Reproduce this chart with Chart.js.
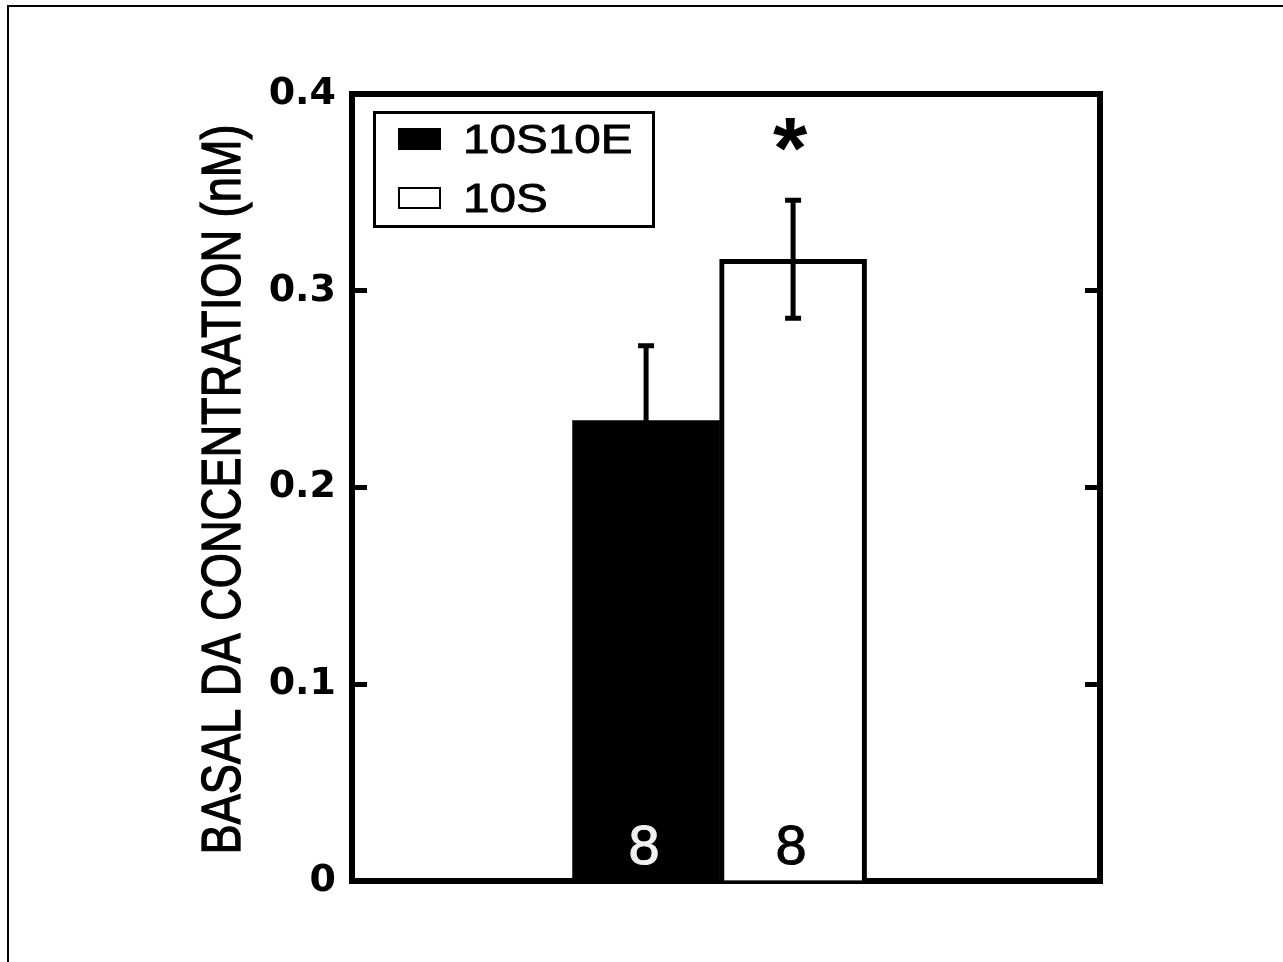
<!DOCTYPE html>
<html><head><meta charset="utf-8">
<script src="https://cdn.jsdelivr.net/npm/chart.js@4.4.1/dist/chart.umd.min.js"></script>
<style>html,body{margin:0;padding:0;background:#fff;overflow:hidden}
canvas{display:block}</style>
</head><body>
<canvas id="c" width="1283" height="962" style="width:1283px;height:962px"></canvas>
<script>
// ---- data ----
const categories = [0];
const seriesLabels = ['10S10E', '10S'];
const means10S10E = [0.234];
const means10S = [0.316];
const sem10S10E = [0.038];
const sem10S = [0.030];
const nCounts = [8, 8];
const significance = ['', '*'];
const yTicks = [0, 0.1, 0.2, 0.3, 0.4];
const yTitle = 'BASAL DA CONCENTRATION (nM)';

const fillColors = ['#000000', '#ffffff'];
const countColors = ['#f0f0f0', '#000000'];

const frame = {
  id: 'frame',
  beforeDraw(chart) {
    const ctx = chart.ctx;
    ctx.save();
    ctx.fillStyle = '#fff';
    ctx.fillRect(0, 0, chart.width, chart.height);
    ctx.fillStyle = '#000';
    ctx.fillRect(7, 5, chart.width - 7, 2);
    ctx.fillRect(7, 5, 2, chart.height - 5);
    ctx.restore();
  }
};

const yTitlePlugin = {
  id: 'yTitlePlugin',
  afterDraw(chart) {
    const ctx = chart.ctx;
    const area = chart.chartArea;
    ctx.save();
    ctx.font = '55px "Liberation Sans", Arial, sans-serif';
    const w = ctx.measureText(yTitle).width;
    ctx.translate(240, (area.top + area.bottom) / 2 + 2);
    ctx.rotate(-Math.PI / 2);
    ctx.scale(730 / w, 1);
    ctx.fillStyle = '#000';
    ctx.strokeStyle = '#000';
    ctx.lineWidth = 1.3;
    ctx.textAlign = 'center';
    ctx.textBaseline = 'alphabetic';
    ctx.fillText(yTitle, 0, 0);
    ctx.strokeText(yTitle, 0, 0);
    ctx.restore();
  }
};

const annotations = {
  id: 'annotations',
  afterDatasetsDraw(chart) {
    const ctx = chart.ctx;
    const y = chart.scales.y;
    const area = chart.chartArea;
    chart.data.datasets.forEach((ds, i) => {
      const meta = chart.getDatasetMeta(i);
      meta.data.forEach((bar, j) => {
        const m = ds.data[j], e = ds.errors[j];
        const yTop = y.getPixelForValue(m + e), yBot = y.getPixelForValue(m - e);
        ctx.save();
        ctx.strokeStyle = '#000';
        ctx.lineWidth = 5;
        ctx.beginPath();
        ctx.moveTo(bar.x, yTop); ctx.lineTo(bar.x, yBot);
        ctx.moveTo(bar.x - 8, yTop); ctx.lineTo(bar.x + 8, yTop);
        ctx.moveTo(bar.x - 8, yBot); ctx.lineTo(bar.x + 8, yBot);
        ctx.stroke();
        // n count
        ctx.fillStyle = ds.countColor;
        ctx.strokeStyle = ds.countColor;
        ctx.lineWidth = 1;
        ctx.font = '56px "Liberation Sans", Arial, sans-serif';
        ctx.textAlign = 'center';
        ctx.textBaseline = 'alphabetic';
        ctx.fillText(String(ds.counts[j]), bar.x - 2, y.getPixelForValue(0) - 17);
        ctx.strokeText(String(ds.counts[j]), bar.x - 2, y.getPixelForValue(0) - 17);
        // significance
        const s = ds.sig[j];
        if (s) {
          ctx.fillStyle = '#000';
          ctx.font = 'bold 88px "Liberation Sans", Arial, sans-serif';
          const mt = ctx.measureText(s);
          const cy = yTop - 66;
          const base = cy - (mt.actualBoundingBoxDescent - mt.actualBoundingBoxAscent) / 2;
          ctx.fillText(s, bar.x - 3, base);
        }
        ctx.restore();
      });
    });
    // legend box
    const lx = area.left + 21, ly = area.top + 17;
    ctx.save();
    ctx.strokeStyle = '#000';
    ctx.lineWidth = 3;
    ctx.strokeRect(lx + 1.5, ly + 1.5, 279, 114);
    chart.data.datasets.forEach((ds, i) => {
      const rowY = ly + 28 + i * 59;
      ctx.fillStyle = ds.backgroundColor;
      ctx.fillRect(lx + 25, rowY - 11, 43, 22);
      ctx.strokeStyle = '#000';
      ctx.lineWidth = 2;
      ctx.strokeRect(lx + 26, rowY - 10, 41, 20);
      ctx.save();
      ctx.translate(lx + 90, rowY + 14);
      ctx.scale(1.19, 1);
      ctx.fillStyle = '#000';
      ctx.strokeStyle = '#000';
      ctx.lineWidth = 0.8;
      ctx.font = '40px "Liberation Sans", Arial, sans-serif';
      ctx.textAlign = 'left';
      ctx.textBaseline = 'alphabetic';
      ctx.fillText(ds.label, 0, 0);
      ctx.strokeText(ds.label, 0, 0);
      ctx.restore();
    });
    ctx.restore();
  }
};

const tickSetter = (scale) => { scale.ticks = yTicks.map(v => ({ value: v })); };

new Chart(document.getElementById('c'), {
  type: 'bar',
  data: {
    labels: categories,
    datasets: [
      { label: seriesLabels[0], data: means10S10E, errors: sem10S10E, counts: [nCounts[0]], sig: [significance[0]],
        countColor: countColors[0], backgroundColor: fillColors[0], borderColor: '#000', borderWidth: 0,
        barThickness: 147 },
      { label: seriesLabels[1], data: means10S, errors: sem10S, counts: [nCounts[1]], sig: [significance[1]],
        countColor: countColors[1], backgroundColor: fillColors[1], borderColor: '#000',
        borderWidth: { left: 5, top: 5, right: 5, bottom: 0 }, borderSkipped: 'bottom',
        barThickness: 147 }
    ]
  },
  options: {
    responsive: false,
    animation: false,
    devicePixelRatio: 1,
    layout: { padding: { left: 185, right: 183, top: 94, bottom: 81 } },
    plugins: { legend: { display: false }, tooltip: { enabled: false } },
    scales: {
      x: {
        type: 'linear',
        position: 'bottom',
        min: -0.49, max: 0.51,
        grid: { display: false, drawTicks: false },
        border: { display: true, width: 6, color: '#000' },
        ticks: { display: false },
        afterFit(s) { s.height = 0; }
      },
      xTop: {
        type: 'linear',
        position: 'top',
        min: -0.49, max: 0.51,
        grid: { display: false, drawTicks: false },
        border: { display: true, width: 6, color: '#000' },
        ticks: { display: false },
        afterFit(s) { s.height = 0; }
      },
      y: {
        position: 'left',
        min: 0, max: 0.4,
        afterBuildTicks: tickSetter,
        grid: { drawOnChartArea: false, drawTicks: true, tickLength: -15, tickWidth: 5, tickColor: '#000' },
        border: { display: true, width: 6, color: '#000' },
        ticks: {
          padding: 31, color: '#000',
          font: { family: '"DejaVu Sans", sans-serif', weight: 'bold', size: 38 },
          callback: (v) => v === 0 ? '0' : v.toFixed(1)
        },
        title: { display: false, text: yTitle },
        afterFit(s) { s.width = 352 - 185; }
      },
      y2: {
        position: 'right',
        min: 0, max: 0.4,
        afterBuildTicks: tickSetter,
        grid: { drawOnChartArea: false, drawTicks: true, tickLength: -15, tickWidth: 5, tickColor: '#000' },
        border: { display: true, width: 6, color: '#000' },
        ticks: { display: false },
        afterFit(s) { s.width = 0; }
      }
    }
  },
  plugins: [frame, annotations, yTitlePlugin]
});
</script>
</body></html>
